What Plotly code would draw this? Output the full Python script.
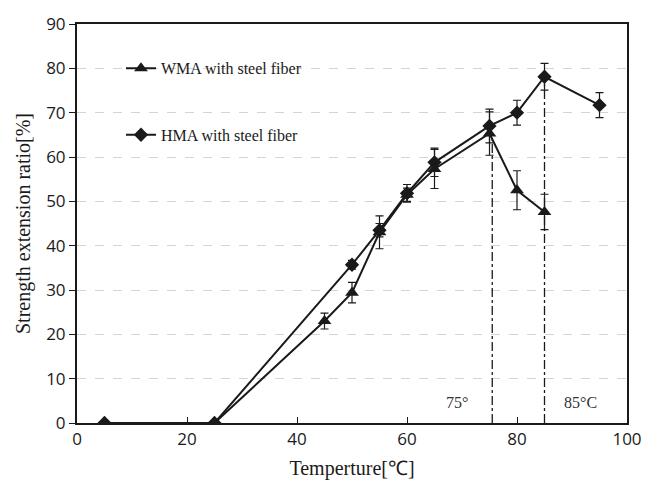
import plotly.graph_objects as go

wma_x = [5, 25, 45, 50, 55, 60, 65, 75, 80, 85]
wma_y = [0, 0, 23.0, 29.4, 43.0, 51.5, 57.3, 65.3, 52.5, 47.6]
wma_err = [0, 0, 1.8, 2.3, 3.7, 1.5, 4.4, 4.9, 4.4, 4.0]

hma_x = [5, 25, 50, 55, 60, 65, 75, 80, 85, 95]
hma_y = [0, 0, 35.7, 43.5, 51.8, 58.8, 67.0, 70.0, 78.1, 71.7]
hma_err = [0, 0, 1.0, 1.5, 2.0, 3.2, 3.8, 2.8, 3.0, 2.8]

vline_x = [75.5, 85]
vline_top = [wma_y[7], hma_y[8]]
vline_labels = ["75°", "85°C"]
vline_label_x = [69, 91.5]

ink = "#1a1a1a"
serif = "Liberation Serif, Times New Roman, serif"
sans = "Open Sans, Liberation Sans, Arial, sans-serif"

fig = go.Figure()

for vx, vt in zip(vline_x, vline_top):
    fig.add_trace(go.Scatter(x=[vx, vx], y=[0, vt], mode="lines",
                             line=dict(color=ink, width=1.3, dash="dashdot"),
                             showlegend=False, hoverinfo="skip"))

fig.add_trace(go.Scatter(
    x=hma_x, y=hma_y, mode="lines+markers", name="HMA with steel fiber",
    line=dict(color=ink, width=2),
    marker=dict(symbol="diamond", size=11, color=ink),
    error_y=dict(type="data", array=hma_err, visible=True, color=ink, thickness=1.2, width=4),
    legend="legend2"))

fig.add_trace(go.Scatter(
    x=wma_x, y=wma_y, mode="lines+markers", name="WMA with steel fiber",
    line=dict(color=ink, width=2),
    marker=dict(symbol="triangle-up", size=12, color=ink),
    error_y=dict(type="data", array=wma_err, visible=True, color=ink, thickness=1.2, width=4),
    legend="legend"))

for lx, lt in zip(vline_label_x, vline_labels):
    fig.add_annotation(x=lx, y=4.7, text=lt, showarrow=False,
                       font=dict(family=serif, size=16, color="#333"))

legend_common = dict(bgcolor="rgba(0,0,0,0)", borderwidth=0,
                     font=dict(family=serif, size=16, color=ink),
                     xanchor="left", yanchor="middle", itemwidth=30)

fig.update_layout(
    width=654, height=488,
    margin=dict(l=77, r=27, t=17, b=64),
    plot_bgcolor="white", paper_bgcolor="white",
    showlegend=True,
    legend=dict(x=0.08, y=(80 / 90), **legend_common),
    legend2=dict(x=0.08, y=(65 / 90), **legend_common),
    xaxis=dict(range=[0, 100], dtick=20, showgrid=False, zeroline=False,
               showline=True, linecolor=ink, linewidth=2, mirror=True,
               ticks="inside", ticklen=6, tickcolor=ink, tickwidth=1,
               tickfont=dict(family=sans, size=17, color=ink),
               title=dict(text="Temperture[℃]", font=dict(family=serif, size=20, color=ink), standoff=12)),
    yaxis=dict(range=[0, 90], dtick=10, showgrid=True, gridcolor="#d4d4d4",
               griddash="dash", gridwidth=1, zeroline=False,
               showline=True, linecolor=ink, linewidth=2, mirror=True,
               ticks="outside", ticklen=6, tickcolor=ink, tickwidth=1,
               tickfont=dict(family=sans, size=17, color=ink),
               title=dict(text="Strength extension ratio[%]", font=dict(family=serif, size=20, color=ink), standoff=10)),
)

fig.write_html("out.html")
